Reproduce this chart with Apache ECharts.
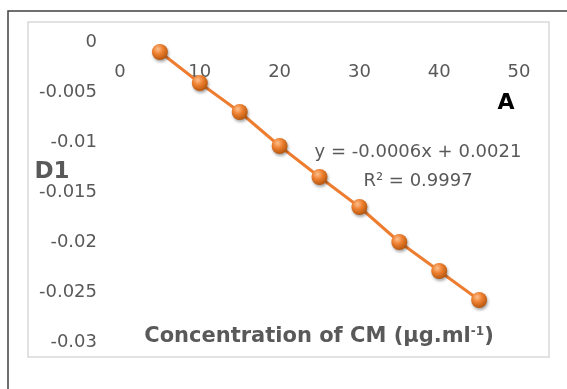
<!DOCTYPE html>
<html>
<head>
<meta charset="utf-8">
<script src="https://cdn.jsdelivr.net/npm/echarts@6/dist/echarts.min.js"></script>
<style>html,body{margin:0;padding:0;background:#fff;}#c{width:567px;height:389px;}</style>
</head>
<body>
<div id="c"></div>
<script>
// Data
var concentrations = [5, 10, 15, 20, 25, 30, 35, 40, 45];
var d1Values = [-0.001, -0.0041, -0.007, -0.0104, -0.0135, -0.0165, -0.02, -0.0229, -0.0258];
var xAxisTitle = 'Concentration of CM (µg.ml';
var yAxisTitle = 'D1';
var panelLabel = 'A';
var equationText = 'y = -0.0006x + 0.0021';
var r2Text = 'R² = 0.9997';

var FONT = 'DejaVu Sans';
var GRAY = '#595959';

var points = concentrations.map(function (x, i) { return [x, d1Values[i]]; });

var chart = echarts.init(document.getElementById('c'), null, {renderer: 'canvas'});
chart.setOption({
  animation: false,
  backgroundColor: '#fff',
  grid: {left: 120, top: 42, width: 399, height: 300, containLabel: false},
  xAxis: {
    type: 'value', min: 0, max: 50, interval: 10, position: 'top',
    axisLine: {show: false}, axisTick: {show: false}, splitLine: {show: false},
    axisLabel: {inside: true, margin: 21, color: GRAY, fontFamily: FONT, fontSize: 18}
  },
  yAxis: {
    type: 'value', min: -0.03, max: 0, interval: 0.005,
    axisLine: {show: false}, axisTick: {show: false}, splitLine: {show: false},
    axisLabel: {
      margin: 23, color: GRAY, fontFamily: FONT, fontSize: 18,
      formatter: function (v) { return String(Number(v.toFixed(4))); }
    }
  },
  series: [{
    type: 'line',
    data: points,
    symbol: 'circle',
    symbolSize: 16,
    lineStyle: {color: '#ED7D31', width: 3},
    itemStyle: {
      color: new echarts.graphic.RadialGradient(0.38, 0.32, 0.7, [
        {offset: 0, color: '#FBC08F'},
        {offset: 0.45, color: '#EE8030'},
        {offset: 1, color: '#B4560F'}
      ]),
      borderWidth: 0,
      shadowColor: 'rgba(0,0,0,0.35)', shadowBlur: 3, shadowOffsetX: 1, shadowOffsetY: 2
    },
    z: 3
  }],
  graphic: [
    {type: 'rect', shape: {x: 8, y: 11, width: 620, height: 420},
     style: {fill: 'none', stroke: '#404040', lineWidth: 1.5}, silent: true, z: 0},
    {type: 'rect', shape: {x: 28, y: 22, width: 521, height: 335},
     style: {fill: 'none', stroke: '#D9D9D9', lineWidth: 1.5}, silent: true, z: 0},
    {type: 'text', x: 52, y: 172,
     style: {text: yAxisTitle, fill: GRAY, font: 'bold 23px "DejaVu Sans"', textAlign: 'center', textVerticalAlign: 'middle'}},
    {type: 'text', x: 506, y: 103,
     style: {text: panelLabel, fill: '#000', font: 'bold 22px "DejaVu Sans"', textAlign: 'center', textVerticalAlign: 'middle'}},
    {type: 'text', x: 418, y: 152,
     style: {text: equationText, fill: GRAY, font: '18px "DejaVu Sans"', textAlign: 'center', textVerticalAlign: 'middle'}},
    {type: 'text', x: 418, y: 181,
     style: {text: r2Text, fill: GRAY, font: '18px "DejaVu Sans"', textAlign: 'center', textVerticalAlign: 'middle'}},
    {type: 'text', x: 319, y: 337,
     style: {
       text: '{a|' + xAxisTitle + '}{s|-1}{a|)}',
       textAlign: 'center', textVerticalAlign: 'middle',
       rich: {
         a: {fill: GRAY, color: GRAY, fontFamily: FONT, fontWeight: 'bold', fontSize: 21},
         s: {fill: GRAY, color: GRAY, fontFamily: FONT, fontWeight: 'bold', fontSize: 12, verticalAlign: 'top', padding: [0, 0, 10, 0]}
       }
     }}
  ]
});
</script>
</body>
</html>
